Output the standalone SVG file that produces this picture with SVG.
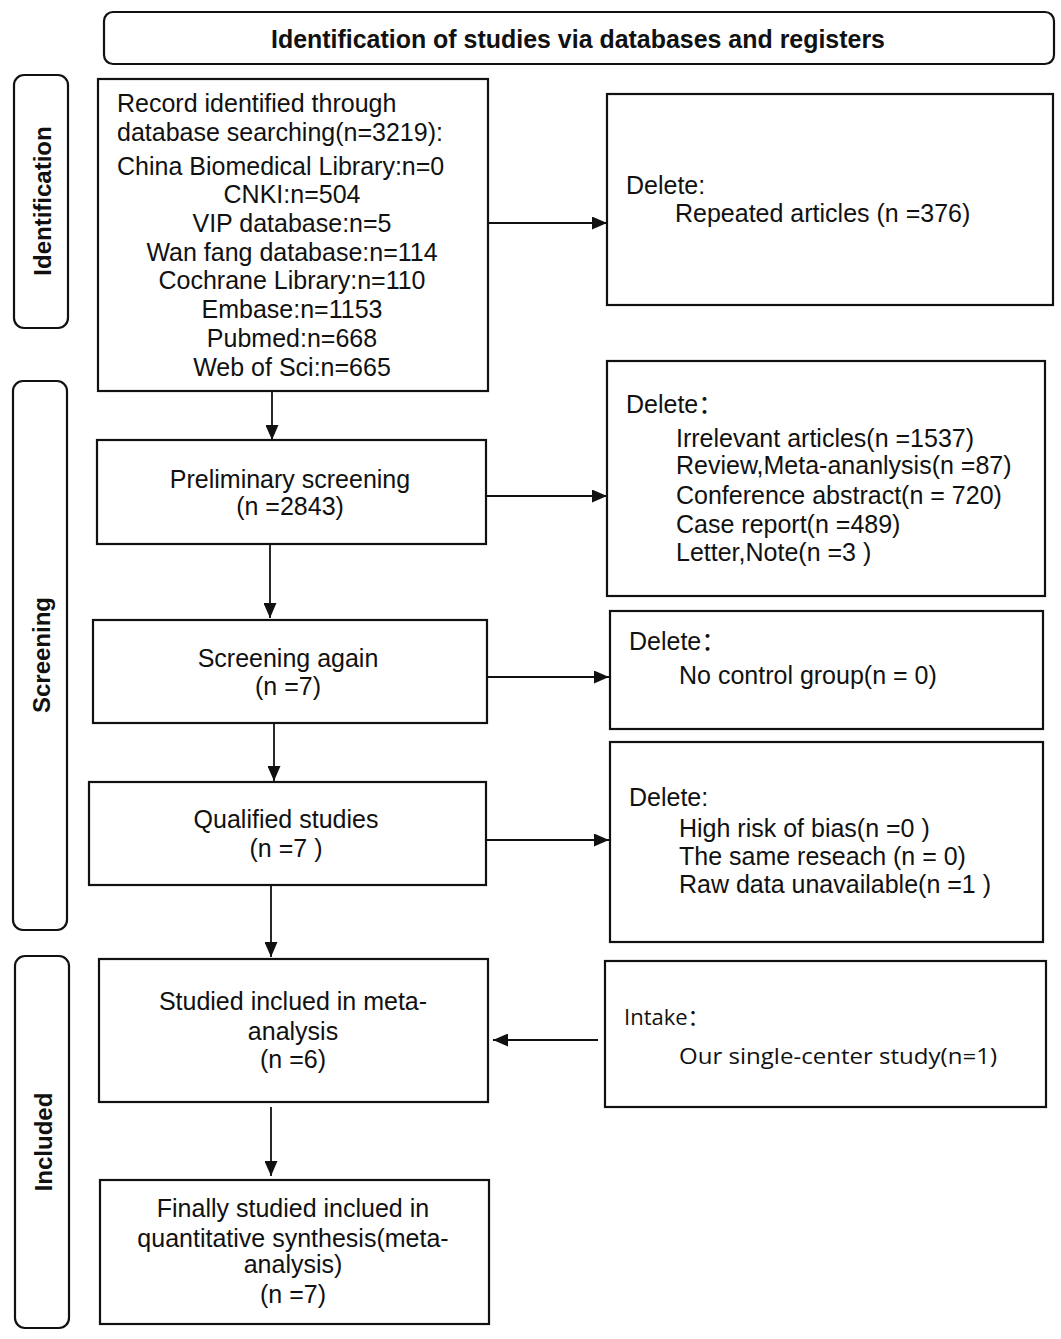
<svg xmlns="http://www.w3.org/2000/svg" width="1061" height="1339" viewBox="0 0 1061 1339">
<style>
.box{fill:#fff;stroke:#111;stroke-width:2.2}
.side{fill:#fff;stroke:#111;stroke-width:2.2}
.t{font-family:"Liberation Sans",Arial,"Noto Sans CJK SC",sans-serif;font-size:25px;fill:#111}
.c{text-anchor:middle}
.sl{font-family:"Liberation Sans",Arial,sans-serif;font-size:24px;font-weight:bold;fill:#111;text-anchor:middle}
.title{font-family:"Liberation Sans",Arial,sans-serif;font-size:26px;font-weight:bold;fill:#111;text-anchor:middle}
.cal{font-family:"Open Sans","Noto Sans","Noto Sans CJK SC",sans-serif;font-size:22px;fill:#111}
.ln{stroke:#111;stroke-width:1.8;fill:none;marker-end:url(#ah)}
</style>
<defs>
<marker id="ah" viewBox="0 0 15 13" refX="15" refY="6.5" markerWidth="15" markerHeight="13" markerUnits="userSpaceOnUse" orient="auto">
<path d="M0,0 L15,6.5 L0,13 z" fill="#111"/>
</marker>
</defs>
<rect width="1061" height="1339" fill="#fff"/>

<g id="title">
<rect class="box" x="104" y="12" width="950" height="52" rx="9"/>
<text class="title" x="578" y="48" textLength="614" lengthAdjust="spacingAndGlyphs">Identification of studies via databases and registers</text>
</g>

<g id="phase-identification">
<rect class="side" x="14" y="75" width="54" height="253" rx="10"/>
<text class="sl" x="51" y="201" transform="rotate(-90 51 201)">Identification</text>
</g>
<g id="phase-screening">
<rect class="side" x="13" y="381" width="54" height="549" rx="10"/>
<text class="sl" x="50" y="655" transform="rotate(-90 50 655)">Screening</text>
</g>
<g id="phase-included">
<rect class="side" x="15" y="956" width="54" height="372" rx="10"/>
<text class="sl" x="52" y="1142" transform="rotate(-90 52 1142)">Included</text>
</g>

<g id="records">
<rect class="box" x="98" y="79" width="390" height="312"/>
<text class="t" x="117" y="112">Record identified through</text>
<text class="t" x="117" y="141">database searching(n=3219):</text>
<text class="t" x="117" y="175">China Biomedical Library:n=0</text>
<text class="t c" x="292" y="203">CNKI:n=504</text>
<text class="t c" x="292" y="232">VIP database:n=5</text>
<text class="t c" x="292" y="261">Wan fang database:n=114</text>
<text class="t c" x="292" y="289">Cochrane Library:n=110</text>
<text class="t c" x="292" y="318">Embase:n=1153</text>
<text class="t c" x="292" y="347">Pubmed:n=668</text>
<text class="t c" x="292" y="376">Web of Sci:n=665</text>
</g>

<g id="preliminary">
<rect class="box" x="97" y="440" width="389" height="104"/>
<text class="t c" x="290" y="488">Preliminary screening</text>
<text class="t c" x="290" y="515">(n =2843)</text>
</g>

<g id="screening-again">
<rect class="box" x="93" y="620" width="394" height="103"/>
<text class="t c" x="288" y="667">Screening again</text>
<text class="t c" x="288" y="695">(n =7)</text>
</g>

<g id="qualified">
<rect class="box" x="89" y="782" width="397" height="103"/>
<text class="t c" x="286" y="828">Qualified studies</text>
<text class="t c" x="286" y="857">(n =7 )</text>
</g>

<g id="included-meta">
<rect class="box" x="99" y="959" width="389" height="143"/>
<text class="t c" x="293" y="1010">Studied inclued in meta-</text>
<text class="t c" x="293" y="1040">analysis</text>
<text class="t c" x="293" y="1068">(n =6)</text>
</g>

<g id="final">
<rect class="box" x="100" y="1180" width="389" height="144"/>
<text class="t c" x="293" y="1217">Finally studied inclued in</text>
<text class="t c" x="293" y="1247">quantitative synthesis(meta-</text>
<text class="t c" x="293" y="1273">analysis)</text>
<text class="t c" x="293" y="1303">(n =7)</text>
</g>

<g id="delete-repeated">
<rect class="box" x="607" y="94" width="446" height="211"/>
<text class="t" x="626" y="194">Delete:</text>
<text class="t" x="675" y="222">Repeated articles (n =376)</text>
</g>

<g id="delete-preliminary">
<rect class="box" x="607" y="361" width="438" height="235"/>
<text class="t" x="626" y="413">Delete：</text>
<text class="t" x="676" y="447">Irrelevant articles(n =1537)</text>
<text class="t" x="676" y="474">Review,Meta-ananlysis(n =87)</text>
<text class="t" x="676" y="504">Conference abstract(n = 720)</text>
<text class="t" x="676" y="533">Case report(n =489)</text>
<text class="t" x="676" y="561">Letter,Note(n =3 )</text>
</g>

<g id="delete-control">
<rect class="box" x="610" y="611" width="433" height="118"/>
<text class="t" x="629" y="650">Delete：</text>
<text class="t" x="679" y="684">No control group(n = 0)</text>
</g>

<g id="delete-qualified">
<rect class="box" x="610" y="742" width="433" height="200"/>
<text class="t" x="629" y="806">Delete:</text>
<text class="t" x="679" y="837">High risk of bias(n =0 )</text>
<text class="t" x="679" y="865">The same reseach (n = 0)</text>
<text class="t" x="679" y="893">Raw data unavailable(n =1 )</text>
</g>

<g id="intake">
<rect class="box" x="605" y="961" width="441" height="146"/>
<text class="cal" x="624" y="1025">Intake：</text>
<text class="cal" x="679" y="1064" textLength="318" lengthAdjust="spacingAndGlyphs">Our single-center study(n=1)</text>
</g>

<g id="connectors">
<line class="ln" x1="272" y1="391" x2="272" y2="440"/>
<line class="ln" x1="270" y1="544" x2="270" y2="618"/>
<line class="ln" x1="274" y1="723" x2="274" y2="781"/>
<line class="ln" x1="271" y1="886" x2="271" y2="957"/>
<line class="ln" x1="271" y1="1107" x2="271" y2="1176"/>
<line class="ln" x1="488" y1="223" x2="607" y2="223"/>
<line class="ln" x1="486" y1="496" x2="607" y2="496"/>
<line class="ln" x1="487" y1="677" x2="609" y2="677"/>
<line class="ln" x1="487" y1="840" x2="609" y2="840"/>
<line class="ln" x1="598" y1="1040" x2="493" y2="1040"/>
</g>
</svg>
